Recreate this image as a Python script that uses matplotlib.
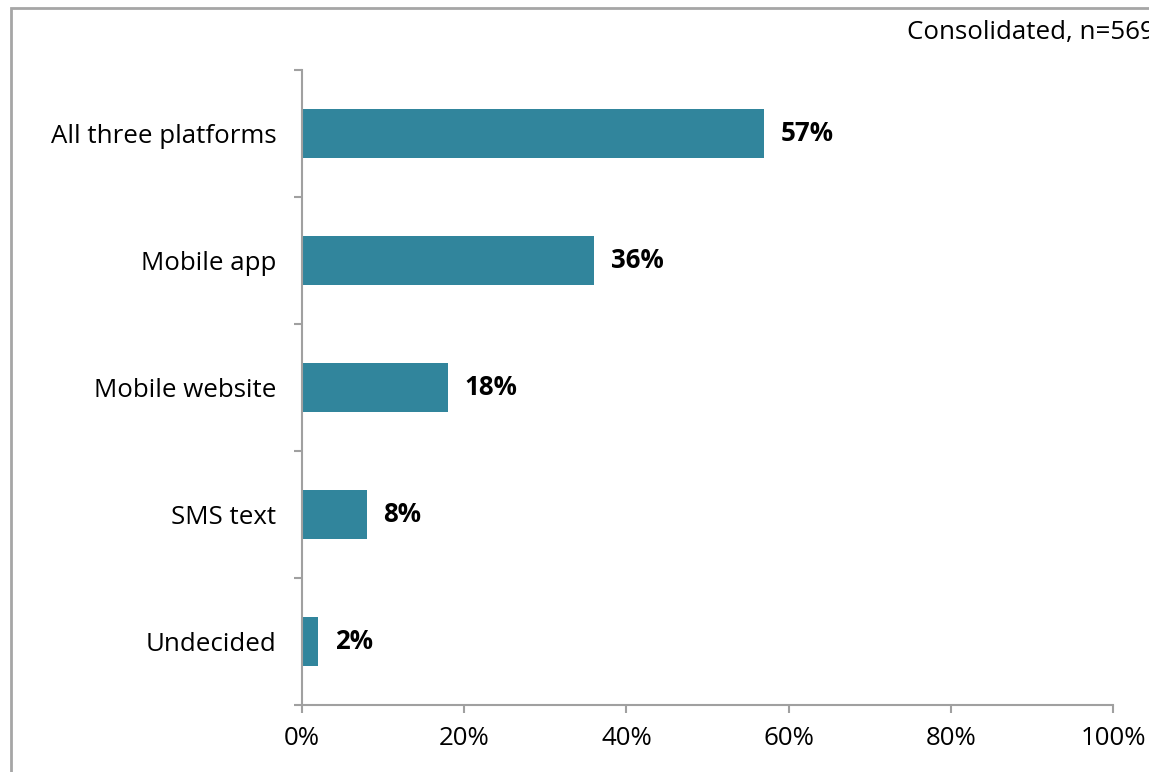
import matplotlib

matplotlib.use("Agg")
import matplotlib.pyplot as plt
from matplotlib.patches import Rectangle

categories = ["All three platforms", "Mobile app", "Mobile website", "SMS text", "Undecided"]
shares = [57, 36, 18, 8, 2]
x_ticks = [0, 20, 40, 60, 80, 100]
note = "Consolidated, n=569"

plt.rcParams["font.family"] = ["Open Sans", "DejaVu Sans"]

bar_color = "#31859C"
axis_color = "#A0A0A0"
fs = 18.6

fig = plt.figure(figsize=(11.49, 7.72), dpi=100)
ax = fig.add_axes([0.2628, 0.0868, 0.7059, 0.8225])

ypos = list(range(len(categories)))[::-1]
ax.barh(ypos, shares, height=0.39, color=bar_color, zorder=2)

for y, v in zip(ypos, shares):
    ax.annotate(f"{v}%", (v, y), xytext=(12, 0), textcoords="offset points",
                va="center", ha="left", fontsize=fs, fontweight="bold")

ax.set_xlim(0, 100)
ax.set_ylim(-0.5, len(categories) - 0.5)
ax.set_xticks(x_ticks)
ax.set_xticklabels([f"{t}%" for t in x_ticks], fontsize=fs)
ax.set_yticks(ypos)
ax.set_yticklabels(categories, fontsize=fs)

# tick marks sit between categories, labels stay centred on bars
ax.set_yticks([i - 0.5 for i in range(len(categories) + 1)], minor=True)
ax.tick_params(axis="y", which="major", length=0, pad=18.5)
ax.tick_params(axis="y", which="minor", length=6, width=1.5, color=axis_color, direction="out")
ax.tick_params(axis="x", length=6, width=1.5, color=axis_color, direction="out", pad=9)

for side in ["top", "right"]:
    ax.spines[side].set_visible(False)
for side in ["left", "bottom"]:
    ax.spines[side].set_color(axis_color)
    ax.spines[side].set_linewidth(1.5)

fig.text(907 / 1149, 1 - 33 / 772, note, fontsize=fs, ha="left", va="center")

# chart frame, running off the right and bottom edges
fig.patches.append(Rectangle((11 / 1149, -0.05), 1.2, 1.05 - 8 / 772, transform=fig.transFigure,
                             fill=False, edgecolor="#A6A6A6", linewidth=2))

fig.savefig("out.png", dpi=100)
